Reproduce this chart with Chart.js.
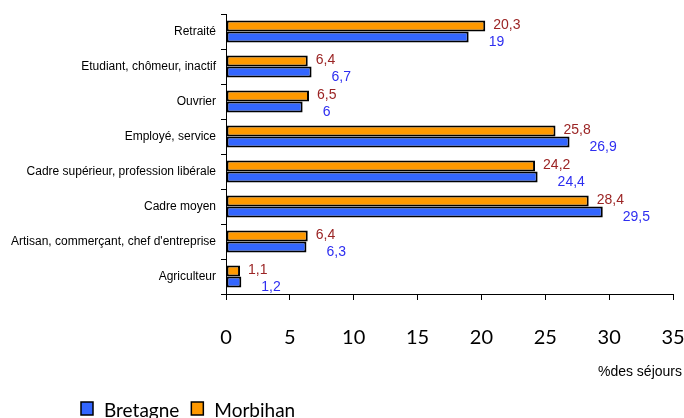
<!DOCTYPE html>
<html>
<head>
<meta charset="utf-8">
<script src="https://cdn.jsdelivr.net/npm/chart.js@4/dist/chart.umd.min.js"></script>
<style>
html,body{margin:0;padding:0;background:#fff;}
#wrap{position:relative;width:684px;height:418px;}
</style>
</head>
<body>
<div id="wrap"><canvas id="c" width="684" height="418"></canvas></div>
<script>
const categories = [
  "Retraité",
  "Etudiant, chômeur, inactif",
  "Ouvrier",
  "Employé, service",
  "Cadre supérieur, profession libérale",
  "Cadre moyen",
  "Artisan, commerçant, chef d'entreprise",
  "Agriculteur"
];
const morbihan = [20.3, 6.4, 6.5, 25.8, 24.2, 28.4, 6.4, 1.1];
const bretagne = [19, 6.7, 6, 26.9, 24.4, 29.5, 6.3, 1.2];
const xTicks = [0, 5, 10, 15, 20, 25, 30, 35];
const axisTitle = "%des séjours";
const legendOrder = ["Bretagne", "Morbihan"];

const fmt = v => String(v).replace('.', ',');

const labelPlugin = {
  id: 'valueLabels',
  afterDatasetsDraw(chart) {
    const ctx = chart.ctx;
    ctx.save();
    ctx.font = '14px "Liberation Sans", Arial, sans-serif';
    ctx.textAlign = 'left';
    ctx.textBaseline = 'middle';
    chart.data.datasets.forEach((ds, di) => {
      const meta = chart.getDatasetMeta(di);
      meta.data.forEach((bar, i) => {
        ctx.fillStyle = ds.labelColor;
        ctx.fillText(fmt(ds.data[i]), bar.x + ds.labelDx, bar.y + ds.labelDy);
      });
    });
    ctx.restore();
  }
};

const extrasPlugin = {
  id: 'extras',
  afterDraw(chart) {
    const ctx = chart.ctx;
    const ca = chart.chartArea;
    ctx.save();
    ctx.font = '14px "Liberation Sans", Arial, sans-serif';
    ctx.fillStyle = '#000';
    ctx.textAlign = 'right';
    ctx.textBaseline = 'middle';
    ctx.fillText(axisTitle, ca.right + 9, ca.bottom + 78);
    ctx.font = '19px Lato, "Open Sans", sans-serif';
    ctx.textAlign = 'left';
    ctx.textBaseline = 'alphabetic';
    let x = 81;
    legendOrder.forEach(name => {
      const ds = chart.data.datasets.find(d => d.label === name);
      ctx.fillStyle = ds.backgroundColor;
      ctx.fillRect(x, 402, 12, 13);
      ctx.lineWidth = 1.5;
      ctx.strokeStyle = '#000';
      ctx.strokeRect(x, 402, 12, 13);
      ctx.fillStyle = '#000';
      ctx.fillText(name, x + 23, 417);
      x += 23 + ctx.measureText(name).width + 12;
    });
    ctx.restore();
  }
};

new Chart(document.getElementById('c'), {
  type: 'bar',
  data: {
    labels: categories,
    datasets: [
      {
        label: 'Morbihan',
        data: morbihan,
        backgroundColor: '#FF9900',
        borderColor: '#000',
        borderWidth: 2,
        borderSkipped: false,
        labelColor: '#9B2424',
        labelDx: 8,
        labelDy: -1
      },
      {
        label: 'Bretagne',
        data: bretagne,
        backgroundColor: '#3366FF',
        borderColor: '#000',
        borderWidth: 2,
        borderSkipped: false,
        labelColor: '#2E2EF0',
        labelDx: 20,
        labelDy: 5
      }
    ]
  },
  options: {
    indexAxis: 'y',
    responsive: false,
    animation: false,
    devicePixelRatio: 1,
    categoryPercentage: 0.63,
    barPercentage: 1,
    layout: { padding: { top: 14, right: 11, bottom: 0, left: 0 } },
    plugins: {
      legend: { display: false },
      tooltip: { enabled: false }
    },
    scales: {
      x: {
        type: 'linear',
        min: xTicks[0],
        max: xTicks[xTicks.length - 1],
        afterBuildTicks(scale) { scale.ticks = xTicks.map(v => ({ value: v })); },
        grid: { drawOnChartArea: false, drawTicks: true, tickLength: 6, tickColor: '#000', lineWidth: 1 },
        border: { display: true, color: '#000', width: 1 },
        ticks: {
          color: '#000',
          padding: 26,
          maxRotation: 0,
          autoSkip: false,
          font: { family: 'Lato, "Open Sans", sans-serif', size: 20 }
        },
        afterFit(scale) {
          scale.height = 124;
          scale.paddingLeft = 0;
          scale.paddingRight = 0;
        }
      },
      y: {
        grid: { drawOnChartArea: false, drawTicks: true, tickLength: 5, tickColor: '#000', offset: true },
        border: { display: true, color: '#000', width: 1 },
        ticks: {
          color: '#000',
          padding: 5,
          font: { family: '"Liberation Sans", Arial, sans-serif', size: 12 }
        },
        afterFit(scale) {
          scale.width = 226;
          scale.paddingTop = 0;
          scale.paddingBottom = 0;
        }
      }
    }
  },
  plugins: [labelPlugin, extrasPlugin]
});
</script>
</body>
</html>
